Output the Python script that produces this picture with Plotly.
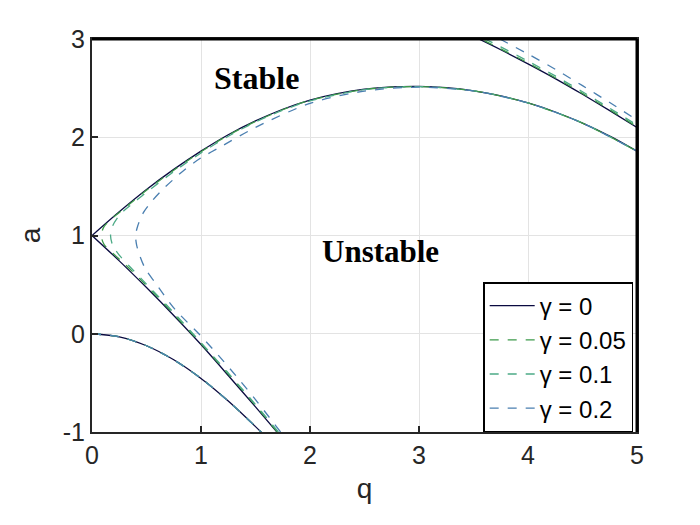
import plotly.graph_objects as go

# --- values ----------------------------------------------------------------
# gamma = 0 : transition curves (undamped)
A0_Q = [0, 0.25, 0.5, 0.75, 1.0, 1.25, 1.5, 1.75]
A0_A = [0, -0.031, -0.122, -0.265, -0.455, -0.685, -0.945, -1.22]

B1_Q = [1.75, 1.5, 1.25, 1.0, 0.75, 0.5, 0.25, 0]
B1_A = [-1.07, -0.745, -0.425, -0.110, 0.186, 0.470, 0.742, 1.0]

A1_Q = [0, 0.25, 0.5, 0.75, 1.0, 1.25, 1.5, 1.75, 2.0, 2.25, 2.5, 2.75,
        3.0, 3.25, 3.5, 3.75, 4.0, 4.25, 4.5, 4.75, 5.0]
A1_A = [1.0, 1.242, 1.469, 1.673, 1.859, 2.026, 2.166, 2.285, 2.379, 2.445,
        2.489, 2.512, 2.517, 2.505, 2.473, 2.421, 2.349, 2.257, 2.144, 2.011, 1.858]

B2_Q = [3.0, 3.25, 3.5, 3.75, 4.0, 4.25, 4.5, 4.75, 5.0]
B2_A_G0 = [3.277, 3.158, 3.027, 2.891, 2.747, 2.597, 2.437, 2.271, 2.100]
B2_A_G05 = [3.287, 3.168, 3.037, 2.900, 2.756, 2.606, 2.446, 2.280, 2.108]
B2_A_G10 = [3.310, 3.190, 3.058, 2.920, 2.775, 2.624, 2.463, 2.296, 2.124]
B2_A_G20 = [3.400, 3.275, 3.137, 2.995, 2.847, 2.692, 2.525, 2.353, 2.175]

# damped tongue boundaries (lower branch -> nose -> upper branch)
T05_Q = [1.70, 1.5, 1.25, 1.0, 0.75, 0.5, 0.3, 0.18, 0.11, 0.085, 0.11, 0.18, 0.3,
         0.5, 0.75, 1.0, 1.25, 1.5, 1.75, 2.0, 2.5, 3.0, 3.5, 4.0, 4.5, 5.0]
T05_A = [-1.0, -0.73, -0.41, -0.10, 0.20, 0.49, 0.71, 0.83, 0.91, 1.0, 1.09, 1.17, 1.28,
         1.46, 1.665, 1.852, 2.02, 2.16, 2.28, 2.375, 2.487, 2.516, 2.473, 2.349, 2.144, 1.858]

T10_Q = [1.71, 1.5, 1.25, 1.0, 0.75, 0.5, 0.35, 0.25, 0.19, 0.17, 0.19, 0.24, 0.3, 0.4,
         0.5, 0.75, 1.0, 1.25, 1.5, 1.75, 2.0, 2.5, 3.0, 3.5, 4.0, 4.5, 5.0]
T10_A = [-1.0, -0.72, -0.40, -0.09, 0.215, 0.505, 0.68, 0.80, 0.90, 1.0, 1.10, 1.19, 1.26, 1.35,
         1.44, 1.65, 1.84, 2.01, 2.155, 2.275, 2.37, 2.485, 2.515, 2.473, 2.349, 2.144, 1.858]

T20_Q = [1.73, 1.5, 1.36, 1.16, 0.98, 0.76, 0.58, 0.49, 0.44, 0.41, 0.40, 0.42, 0.47,
         0.55, 0.64, 0.85, 1.0, 1.16, 1.5, 2.0, 2.5, 3.0, 3.5, 4.0, 4.5, 5.0]
T20_A = [-1.0, -0.67, -0.48, -0.22, 0.0, 0.25, 0.52, 0.66, 0.79, 0.9, 1.0, 1.1, 1.23,
         1.35, 1.46, 1.67, 1.79, 1.89, 2.10, 2.345, 2.47, 2.51, 2.471, 2.349, 2.144, 1.858]

LABELS = ["\u03b3 = 0", "\u03b3 = 0.05", "\u03b3 = 0.1", "\u03b3 = 0.2"]
COLORS = ["#0a0a40", "#3d9a4b", "#4caa86", "#4a7fb0"]

X_TICKS = [0, 1, 2, 3, 4, 5]
Y_TICKS = [-1, 0, 1, 2, 3]
Y_TICKTEXT = ["-1", "0", "1", "2", "3"]


def join(*segs):
    """Concatenate (q, a) segments with gaps in between."""
    xs, ys = [], []
    for q, a in segs:
        if xs:
            xs.append(None)
            ys.append(None)
        xs += list(q)
        ys += list(a)
    return xs, ys


curves = [
    join((A0_Q, A0_A), (B1_Q, B1_A), (A1_Q, A1_A), (B2_Q, B2_A_G0)),
    join((A0_Q, A0_A), (T05_Q, T05_A), (B2_Q, B2_A_G05)),
    join((A0_Q, A0_A), (T10_Q, T10_A), (B2_Q, B2_A_G10)),
    join((A0_Q, A0_A), (T20_Q, T20_A), (B2_Q, B2_A_G20)),
]

fig = go.Figure()
for i, (xs, ys) in enumerate(curves):
    fig.add_trace(go.Scatter(
        x=xs, y=ys, mode="lines", name=LABELS[i],
        line=dict(color=COLORS[i], width=1.3,
                  dash="solid" if i == 0 else "dash", shape="spline", smoothing=0.8),
    ))

fig.add_annotation(x=1.51, y=2.60, text="<b>Stable</b>", showarrow=False,
                   font=dict(family="Liberation Serif", size=32, color="black"))
fig.add_annotation(x=2.65, y=0.84, text="<b>Unstable</b>", showarrow=False,
                   font=dict(family="Liberation Serif", size=31, color="black"))

# heavier black edge on the top and right of the box, as in the picture
fig.add_shape(type="line", xref="paper", yref="paper", x0=0, x1=1, y0=1, y1=1,
              line=dict(color="black", width=3))
fig.add_shape(type="line", xref="paper", yref="paper", x0=1, x1=1, y0=0, y1=1,
              line=dict(color="black", width=3))

axis_style = dict(
    showgrid=True, gridcolor="#e3e3e3", gridwidth=1,
    showline=True, linecolor="#262626", linewidth=2, mirror=True,
    ticks="inside", ticklen=6, tickcolor="#262626", tickwidth=1.5,
    zeroline=False,
    tickfont=dict(family="Liberation Sans", size=25, color="#262626"),
)

fig.update_xaxes(range=[0, 5], tickvals=X_TICKS, title=dict(text="q", standoff=10,
                 font=dict(family="Liberation Sans", size=28, color="#262626")), **axis_style)
fig.update_yaxes(range=[-1, 3], tickvals=Y_TICKS, ticktext=Y_TICKTEXT,
                 title=dict(text="a", standoff=14,
                            font=dict(family="Liberation Sans", size=28, color="#262626")),
                 **axis_style)

fig.update_layout(
    width=700, height=525,
    margin=dict(l=92, r=63, t=39, b=93),
    plot_bgcolor="white", paper_bgcolor="white",
    showlegend=True,
    legend=dict(x=0.993, y=0, xanchor="right", yanchor="bottom",
                bgcolor="white", bordercolor="black", borderwidth=1.5,
                font=dict(family="Liberation Sans", size=24, color="black"),
                traceorder="normal", itemwidth=45),
)

fig.write_html("out.html", config={"displayModeBar": False},
               post_script="document.body.style.margin='0';")
